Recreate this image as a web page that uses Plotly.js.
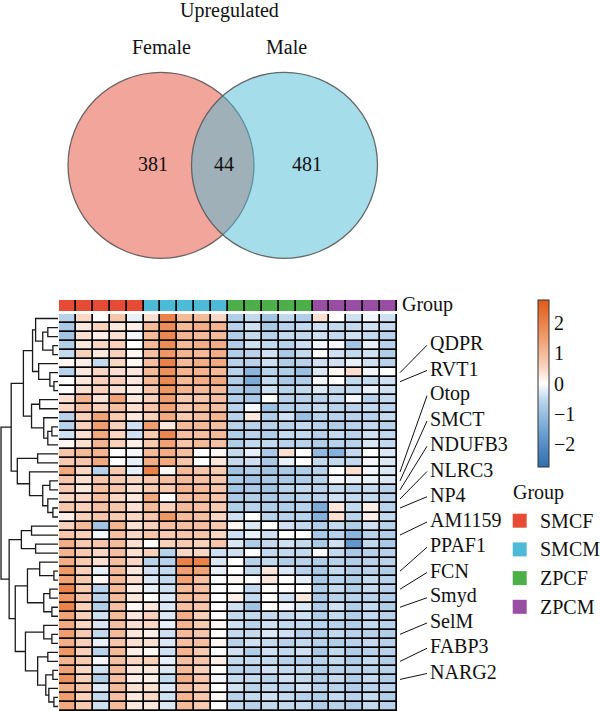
<!DOCTYPE html>
<html><head><meta charset="utf-8">
<script src="https://cdn.plot.ly/plotly-3.0.1.min.js"></script>
<style>html,body{margin:0;padding:0;background:#fff}#chart{width:600px;height:711px}</style>
</head><body><div id="chart"></div>
<script>
// ---------- Venn data ----------
const vennTitle = 'Upregulated';
const vennSets = ['Female', 'Male'];
const vennCounts = [381, 44, 481]; // Female only, shared, Male only
const vennColors = ['rgba(230,75,53,0.5)', 'rgba(77,187,213,0.5)'];

// ---------- heatmap data ----------
const groupNames = ['SMCF', 'SMCM', 'ZPCF', 'ZPCM'];
const groupColors = ['#E64B35', '#4DBBD5', '#4DAF4A', '#984EA3'];
const sampleGroup = [0,0,0,0,0, 1,1,1,1,1, 2,2,2,2,2, 3,3,3,3,3];
const sampleNames = ['SMCF1','SMCF2','SMCF3','SMCF4','SMCF5','SMCM1','SMCM2','SMCM3','SMCM4','SMCM5',
                     'ZPCF1','ZPCF2','ZPCF3','ZPCF4','ZPCF5','ZPCM1','ZPCM2','ZPCM3','ZPCM4','ZPCM5'];
const zRows = [
 [-0.6,0.5,0.0,0.8,-0.2,0.4,2.0,1.0,1.0,0.5,-0.7,-0.5,-0.9,-0.5,-0.7,0.4,0.0,-0.4,-0.1,-0.4],
 [-0.8,0.3,0.6,0.3,0.2,1.0,1.8,1.0,1.2,1.1,-0.6,-0.4,-0.8,-0.6,-0.5,-0.4,-0.5,-0.5,-0.4,-0.5],
 [-0.9,0.4,0.2,0.4,-0.1,1.0,1.9,1.1,1.0,1.0,-0.7,-0.5,-0.6,-0.5,-0.5,-0.4,-0.5,-0.4,-0.5,-0.6],
 [-0.7,0.3,0.5,0.6,0.0,1.0,1.8,1.0,1.2,1.2,-0.7,-0.4,-0.5,-0.6,-0.4,-0.1,-0.1,-0.9,-0.2,-0.6],
 [-0.5,0.6,0.3,0.6,0.1,0.9,1.6,1.1,1.0,1.2,-0.7,-0.6,-0.4,-0.8,-0.5,0.0,-0.4,-0.5,-0.4,-0.7],
 [0.1,0.2,-0.5,0.5,0.1,0.9,2.0,1.0,1.2,1.3,-0.6,-0.6,-0.4,-0.7,-0.6,-0.4,-0.4,-0.2,-0.4,-0.6],
 [-0.6,0.3,0.5,0.4,0.3,1.0,1.7,1.1,1.1,1.0,-0.6,-1.2,-0.6,-0.7,-1.0,-0.3,0.1,0.4,-0.1,0.0],
 [0.0,0.3,0.6,0.6,0.3,1.0,1.9,1.0,1.2,1.3,-0.7,-1.4,-0.5,-0.8,-0.7,-0.1,0.0,-0.5,-0.5,-0.4],
 [0.0,0.4,0.6,0.4,0.2,0.8,1.6,1.1,1.0,1.0,-0.8,-1.0,-0.4,-0.6,-0.5,-0.3,-0.5,-0.5,-0.2,-0.4],
 [0.4,1.1,0.4,1.4,0.3,0.6,1.5,0.7,0.8,0.9,-0.7,-0.8,0.0,-0.6,-0.6,-0.6,-0.5,-0.1,-0.6,-0.5],
 [0.5,0.9,0.6,0.9,0.4,0.8,1.4,0.8,1.0,0.9,-0.6,-0.1,-1.0,-0.7,-0.6,-0.5,-0.6,-0.6,-0.5,-0.6],
 [-0.6,0.6,1.4,0.7,0.3,0.6,1.3,0.7,0.9,1.1,-0.6,0.3,-0.7,-0.4,-1.0,-0.6,-0.6,-0.6,-0.6,-0.5],
 [-0.6,0.6,1.5,0.6,-0.4,1.5,0.3,1.0,1.0,0.9,-0.6,-0.6,-0.6,-0.6,-0.5,-0.6,-0.7,-0.6,-0.5,-0.6],
 [-0.4,0.4,1.3,0.5,-0.4,0.7,1.9,0.9,0.9,1.0,-0.7,-0.6,-0.7,-0.5,-0.5,-0.6,-0.5,-0.6,-0.4,-0.5],
 [0.1,0.4,1.1,0.6,0.2,0.7,1.4,0.8,1.0,0.9,-0.7,-0.5,-0.5,-0.6,-0.6,-0.7,-0.6,-0.6,-0.3,-0.5],
 [0.8,1.0,1.1,0.0,-0.1,1.0,1.2,0.9,0.0,0.1,-0.5,-0.2,-0.8,0.4,0.0,-1.1,-1.3,-0.5,0.0,-0.3],
 [0.7,0.8,1.3,0.0,-0.2,1.2,1.3,0.8,0.0,0.3,-0.5,-0.4,-0.8,-0.2,0.0,-0.5,-0.5,-0.5,-0.1,-0.3],
 [1.3,0.5,-0.6,0.7,-0.2,2.0,0.1,1.0,0.8,0.7,-0.9,-0.7,-0.9,-0.8,-0.7,-0.6,0.0,0.4,-0.1,-0.3],
 [0.8,0.4,0.8,0.7,0.5,0.8,0.9,1.0,0.9,0.8,-0.8,-0.9,-0.8,-0.8,-0.7,-0.6,-0.1,-0.2,-0.2,-0.3],
 [0.7,0.3,0.9,0.8,0.4,0.7,0.7,1.1,1.0,0.8,-0.9,-0.8,-0.9,-0.6,-0.5,-0.6,-0.5,-0.6,-0.5,-0.6],
 [0.5,0.5,0.9,0.5,0.3,1.3,0.0,0.9,1.0,0.8,-0.8,-0.7,-0.8,-0.7,-0.6,-0.6,-0.4,-0.5,-0.5,-0.6],
 [0.8,0.6,0.9,0.8,0.4,1.0,0.6,1.0,0.9,0.7,-0.7,-0.6,-0.7,-0.7,-0.6,-1.4,0.3,-0.5,0.2,-0.6],
 [0.2,0.6,0.8,0.7,0.5,0.8,1.6,1.0,0.9,0.5,-0.4,0.0,-0.6,-0.6,-0.6,-1.3,0.4,-0.6,0.2,-0.5],
 [0.6,1.0,-0.9,1.1,0.4,0.6,0.9,0.9,0.9,0.7,0.1,-0.3,0.0,-0.4,-0.5,-0.7,-0.5,-0.7,-0.4,-0.6],
 [0.8,0.6,-0.1,0.9,0.5,0.8,0.7,0.8,0.8,0.5,-0.4,-0.2,-0.4,0.0,0.0,-0.8,-0.6,-1.2,-0.6,-0.7],
 [1.2,0.7,0.8,1.0,0.4,0.0,0.6,0.7,0.6,0.8,-0.3,-0.7,-0.5,-0.4,-0.5,-0.8,-0.4,-1.8,-0.5,-0.8],
 [1.1,0.7,0.5,0.9,0.4,0.6,-0.6,0.5,0.5,-0.4,-0.4,0.0,-0.5,-0.5,-0.5,0.0,-0.5,-0.8,-0.6,-0.6],
 [1.2,0.7,0.4,0.9,0.5,-0.6,-0.6,2.0,2.0,-0.3,0.0,-0.6,-0.5,-0.7,-0.6,-0.7,-0.6,-0.7,-0.6,-0.6],
 [1.6,0.6,-0.2,1.0,0.3,-0.4,-0.5,1.5,1.4,-0.2,0.0,-0.5,0.3,-0.3,-0.6,-0.8,-0.5,-0.7,-0.6,-0.7],
 [1.4,0.7,0.1,1.0,0.4,-0.3,-0.5,1.4,0.9,0.0,0.1,0.0,0.3,0.0,-0.2,-0.8,-0.6,-0.7,-0.5,-0.6],
 [2.0,0.7,-0.6,1.0,0.2,-0.2,-0.4,1.0,0.9,0.0,0.0,-0.5,0.0,0.0,0.0,-0.7,-0.5,-0.7,-0.5,-0.6],
 [1.6,0.8,-0.6,1.0,0.3,0.0,-0.3,1.0,0.9,0.0,0.2,-0.5,0.0,-0.4,0.3,-0.8,-0.6,-0.6,-0.6,-0.7],
 [2.0,0.6,-0.7,0.9,0.1,0.3,-0.3,0.9,0.8,0.0,-0.4,-0.9,0.0,-0.1,-0.3,-0.7,-0.4,-0.7,-0.5,-0.7],
 [1.4,0.6,-0.4,1.0,0.3,0.6,-0.3,1.2,0.6,0.0,-0.5,-0.5,-0.5,-0.5,-0.4,-0.7,-0.5,-0.7,-0.5,-0.6],
 [1.3,0.5,-0.3,0.9,0.4,0.5,-0.2,1.1,0.7,0.1,-0.4,-0.6,-0.4,-0.5,-0.5,-0.6,-0.6,-0.7,-0.5,-0.6],
 [1.5,0.7,-0.5,1.0,0.3,0.2,-0.4,1.0,0.8,0.0,-0.5,-0.5,-0.3,-0.4,-0.6,-0.7,-0.5,-0.6,-0.6,-0.7],
 [1.2,0.6,-0.2,0.8,0.4,0.4,-0.3,0.9,0.9,0.1,-0.6,-0.4,-0.5,-0.6,-0.5,-0.6,-0.7,-0.6,-0.5,-0.6],
 [1.6,0.6,-0.6,1.0,0.2,0.1,-0.4,1.1,0.7,0.0,-0.4,-0.7,-0.4,-0.5,-0.4,-0.8,-0.5,-0.7,-0.6,-0.6],
 [1.1,0.7,-0.1,0.9,0.5,0.6,-0.2,0.9,0.8,0.2,-0.5,-0.5,-0.5,-0.6,-0.6,-0.6,-0.5,-0.7,-0.5,-0.7],
 [1.4,0.5,-0.4,1.0,0.3,0.3,-0.3,1.0,0.6,0.0,-0.6,-0.6,-0.4,-0.5,-0.5,-0.7,-0.6,-0.6,-0.6,-0.6],
 [1.7,0.6,-0.7,0.9,0.2,0.2,-0.5,1.2,0.8,-0.1,-0.5,-0.5,-0.6,-0.4,-0.5,-0.7,-0.5,-0.7,-0.5,-0.7],
 [1.2,0.8,-0.3,1.0,0.4,0.4,-0.3,0.9,0.7,0.0,-0.4,-0.6,-0.5,-0.6,-0.4,-0.6,-0.6,-0.7,-0.6,-0.6],
 [1.5,0.6,-0.5,0.9,0.3,0.5,-0.4,1.1,0.8,0.1,-0.6,-0.5,-0.4,-0.5,-0.6,-0.7,-0.5,-0.6,-0.5,-0.7],
 [1.3,0.7,-0.4,1.0,0.3,0.3,-0.3,1.0,0.7,0.0,-0.5,-0.6,-0.5,-0.5,-0.5,-0.7,-0.6,-0.7,-0.5,-0.6]
];
const geneLabels = ['QDPR','RVT1','Otop','SMCT','NDUFB3','NLRC3','NP4','AM1159','PPAF1','FCN','Smyd','SelM','FABP3','NARG2'];
const geneLabelRows = [6, 7, 17, 18, 19, 20, 21, 24, 28, 30, 32, 35, 38, 40];
// hierarchical clustering of rows: [left, right, mergeHeight]
const rowTree =
 [[[[[0,[[1,2,10],[3,4,5],15],22],[5,[6,[7,8,4],8],19],25],
    [[9,10,18],[11,[[12,13,6],14,10],14],26],34],
   [[15,16,20],[17,[[18,19,8],[20,[21,22,5],10],15],28],40],46],
  [[[23,24,26],[25,26,22],36],
   [[[27,[28,29,4],18],[[30,31,8],[32,33,6],14],30],
    [[34,[35,36,6],14],[[37,38,10],[[39,40,5],[41,[42,43,4],9],12],20],32],42],48],56];
const colorTicks = [-2, -1, 0, 1, 2];

// ---------- geometry (pixels) ----------
const W = 600, H = 711;
const hmLeft = 59, hmRight = 397, hmTop = 314, rowPx = 9.04;
const barTop = 300, barBottom = 311;
const FONT = 'Liberation Serif';
const nRows = zRows.length, nCols = sampleNames.length;
const hmBottom = hmTop + nRows * rowPx;
const px2x = p => p / W;
const px2y = p => 1 - p / H;

// ---------- dendrogram lines from tree ----------
const dx = [], dy = [];
function walk(node) {
  if (typeof node === 'number') return {y: node, h: 0};
  const a = walk(node[0]), b = walk(node[1]), h = node[2];
  dx.push(a.h, h, h, b.h, null);
  dy.push(a.y, a.y, b.y, b.y, null);
  return {y: (a.y + b.y) / 2, h: h};
}
walk(rowTree);

const traces = [];
traces.push({
  type: 'heatmap', z: zRows, x: sampleNames.map((_, i) => i), y: zRows.map((_, i) => i),
  xaxis: 'x', yaxis: 'y', xgap: 1.7, ygap: 1.7, zmin: -2.75, zmax: 2.75,
  colorscale: [[0, '#2F6EAF'], [0.2, '#6A9ED0'], [0.4, '#BCD5EC'], [0.5, '#FFFFFF'],
               [0.6, '#F9D3BE'], [0.8, '#EE9562'], [1, '#E05A17']],
  hoverinfo: 'skip',
  colorbar: {
    x: px2x(538), xanchor: 'left', xpad: 0, ypad: 0,
    y: px2y((300 + 467) / 2), yanchor: 'middle',
    thickness: 11, thicknessmode: 'pixels', len: 167, lenmode: 'pixels',
    outlinewidth: 1, outlinecolor: '#333', ticks: '',
    tickvals: colorTicks, ticktext: colorTicks.map(v => String(v).replace('-', '\u2212')),
    tickfont: {family: FONT, size: 20, color: '#111'}
  }
});
traces.push({
  type: 'heatmap', z: [sampleGroup], x: sampleNames.map((_, i) => i), y: [0],
  xaxis: 'x', yaxis: 'y2', xgap: 1.7, ygap: 0, zmin: 0, zmax: 3, showscale: false,
  colorscale: [[0, groupColors[0]], [1/3, groupColors[1]], [2/3, groupColors[2]], [1, groupColors[3]]],
  hoverinfo: 'skip'
});
traces.push({
  type: 'scatter', mode: 'lines', x: dx, y: dy, xaxis: 'x4', yaxis: 'y',
  line: {color: '#1a1a1a', width: 1.3}, hoverinfo: 'skip', cliponaxis: false
});
// label connectors
const labelY0 = 343.3, labelStep = 25.3;
const labelRowCoord = geneLabels.map((_, i) => (labelY0 + 2 + i * labelStep - hmTop) / rowPx - 0.5);
const cx = [], cy = [];
geneLabels.forEach((g, i) => { cx.push(400, 427, null); cy.push(geneLabelRows[i], labelRowCoord[i], null); });
traces.push({type: 'scatter', mode: 'lines', x: cx, y: cy, xaxis: 'x5', yaxis: 'y',
  line: {color: '#111', width: 1}, hoverinfo: 'skip', cliponaxis: false});
// group legend squares
const legY0 = 520.7, legStep = 28.7;
traces.push({type: 'scatter', mode: 'markers', x: groupNames.map(() => 519.7),
  y: groupNames.map((_, i) => legY0 + i * legStep), xaxis: 'x5', yaxis: 'y5',
  marker: {symbol: 'square', size: 14, color: groupColors, line: {width: 0}}, hoverinfo: 'skip', cliponaxis: false});

const shapes = [];
shapes.push({type: 'rect', xref: 'x', yref: 'y', x0: -0.5, x1: nCols - 0.5, y0: -0.5, y1: nRows - 0.5,
  fillcolor: '#000', line: {color: '#000', width: 1.2}, layer: 'below'});
shapes.push({type: 'rect', xref: 'x', yref: 'y2', x0: -0.5, x1: nCols - 0.5, y0: -0.5, y1: 0.5,
  fillcolor: '#000', line: {color: '#000', width: 1.2}, layer: 'below'});
// Venn circles
const circ = [{cx: 161, cy: 165.3, r: 93}, {cx: 284.5, cy: 165.3, r: 93}];
circ.forEach((c, i) => shapes.push({type: 'circle', xref: 'x5', yref: 'y5',
  x0: c.cx - c.r, x1: c.cx + c.r, y0: c.cy - c.r, y1: c.cy + c.r,
  fillcolor: vennColors[i], line: {color: 'rgba(90,90,90,0.9)', width: 1.3}, layer: 'above'}));

const tf = {family: FONT, size: 20, color: '#111'};
const ann = [];
const A = (x, y, text, xanchor, extra) => ann.push(Object.assign({xref: 'x5', yref: 'y5', x, y, text,
  showarrow: false, xanchor: xanchor || 'center', yanchor: 'middle', font: tf}, extra || {}));
A(229, 10, vennTitle);
A(161, 47, vennSets[0]);
A(286.7, 47, vennSets[1]);
A(152.5, 163.5, String(vennCounts[0]));
A(224, 163.5, String(vennCounts[1]));
A(306.7, 163.5, String(vennCounts[2]));
A(400, 304, 'Group', 'left');
A(511, 492, 'Group', 'left');
groupNames.forEach((g, i) => A(538, legY0 + i * legStep, g, 'left'));
geneLabels.forEach((g, i) => ann.push({xref: 'x5', yref: 'y', x: 428, y: labelRowCoord[i] - 2 / rowPx,
  text: g, showarrow: false, xanchor: 'left', yanchor: 'middle', font: tf}));

const hid = {visible: false, fixedrange: true};
const layout = {
  width: W, height: H, margin: {l: 0, r: 0, t: 0, b: 0}, showlegend: false,
  paper_bgcolor: '#fff', plot_bgcolor: 'rgba(0,0,0,0)',
  xaxis: Object.assign({domain: [px2x(hmLeft), px2x(hmRight)], range: [-0.5, nCols - 0.5], anchor: 'y'}, hid),
  yaxis: Object.assign({domain: [Math.max(0, px2y(hmBottom)), px2y(hmTop)], range: [nRows - 0.5, -0.5], anchor: 'x'}, hid),
  yaxis2: Object.assign({domain: [px2y(barBottom), px2y(barTop)], range: [0.5, -0.5], anchor: 'x'}, hid),
  xaxis4: Object.assign({domain: [0, px2x(58)], range: [57, 0], anchor: 'y'}, hid),
  xaxis5: Object.assign({domain: [0, 1], range: [0, W], anchor: 'y5'}, hid),
  yaxis5: Object.assign({domain: [0, 1], range: [H, 0], anchor: 'x5'}, hid),
  shapes, annotations: ann
};
Plotly.newPlot('chart', traces, layout, {staticPlot: true, displayModeBar: false});
</script>
</body></html>
